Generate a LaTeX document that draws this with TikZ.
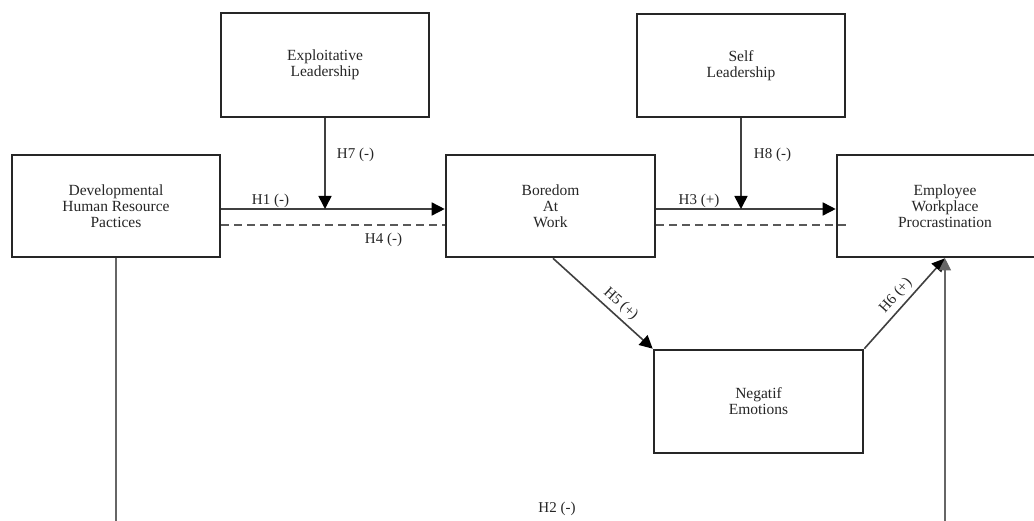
\documentclass[tikz,border=0pt]{standalone}
\usepackage{fontspec}
\setmainfont{Liberation Serif}
\usetikzlibrary{arrows.meta,calc}
\begin{document}
\begin{tikzpicture}[x=1pt,y=-1pt,
  box/.style={draw=black!85,line width=2.6pt,fill=white,minimum width=208pt,minimum height=102pt,inner sep=0pt,align=center,font=\fontsize{15.5}{16}\selectfont,text=black!85},
  conn/.style={draw=black!75,line width=1.6pt,-{Triangle[length=13pt,width=13pt,color=black]}},
  dashline/.style={draw=black!65,line width=1.7pt,dash pattern=on 8pt off 5pt},
  thin/.style={draw=black!60,line width=1.1pt},
  lbl/.style={font=\fontsize{15}{16}\selectfont,text=black!85,inner sep=1pt}]
\useasboundingbox[fill=white] (0,0) rectangle (1034,521);
% boxes
\node[box] (dhrp) at (116,206) {Developmental\\Human Resource\\Pactices};
\node[box,minimum height=104pt] (el) at (325,65) {Exploitative\\Leadership};
\node[box,minimum height=103pt] (sl) at (741,65.5) {Self\\Leadership};
\node[box,minimum width=209pt] (baw) at (550.5,206) {Boredom\\At\\Work};
\node[box,minimum width=216pt] (ewp) at (945,206) {Employee\\Workplace\\Procrastination};
\node[box,minimum width=209pt,minimum height=103pt] (ne) at (758.5,401.5) {Negatif\\Emotions};
% helper coordinates
\coordinate (h1s) at ([yshift=-3pt]dhrp.east);
\coordinate (h4s) at ([yshift=-19pt]dhrp.east);
\coordinate (h3s) at ([yshift=-3pt]baw.east);
\coordinate (h4m) at ([yshift=-19pt]baw.east);
\coordinate (h2a) at (dhrp.south |- 0,540);
\coordinate (h2b) at (ewp.south |- 0,540);
% connectors
\draw[conn] (h1s) -- (baw.west |- h1s);
\draw[conn] (el.south) -- (el.south |- h1s);
\draw[dashline] (h4s) -- (baw.west |- h4s);
\draw[dashline] (h4m) -- ([xshift=10pt]ewp.west |- h4m);
\draw[conn] (h3s) -- (ewp.west |- h3s);
\draw[conn] (sl.south) -- (sl.south |- h3s);
\draw[conn] ([xshift=2.5pt]baw.south) -- node[lbl,sloped,above=3pt,pos=0.6] {H5 (+)} (ne.north west);
\draw[conn] (ne.north east) -- node[lbl,sloped,above=3pt,pos=0.5] {H6 (+)} (ewp.south);
\draw[thin,-{Triangle[length=12pt,width=12pt]}] (dhrp.south) -- (h2a) -- (h2b) -- (ewp.south);
% labels
\node[lbl] (l1) at (270.5,201) {H1 (-)};
\node[lbl] (l7) at (355.5,155) {H7 (-)};
\node[lbl] (l4) at (383.5,240) {H4 (-)};
\node[lbl] (l3) at (699,201) {H3 (+)};
\node[lbl] (l8) at (772.5,155) {H8 (-)};
\node[lbl] (l2) at (557,509) {H2 (-)};
\end{tikzpicture}
\end{document}
